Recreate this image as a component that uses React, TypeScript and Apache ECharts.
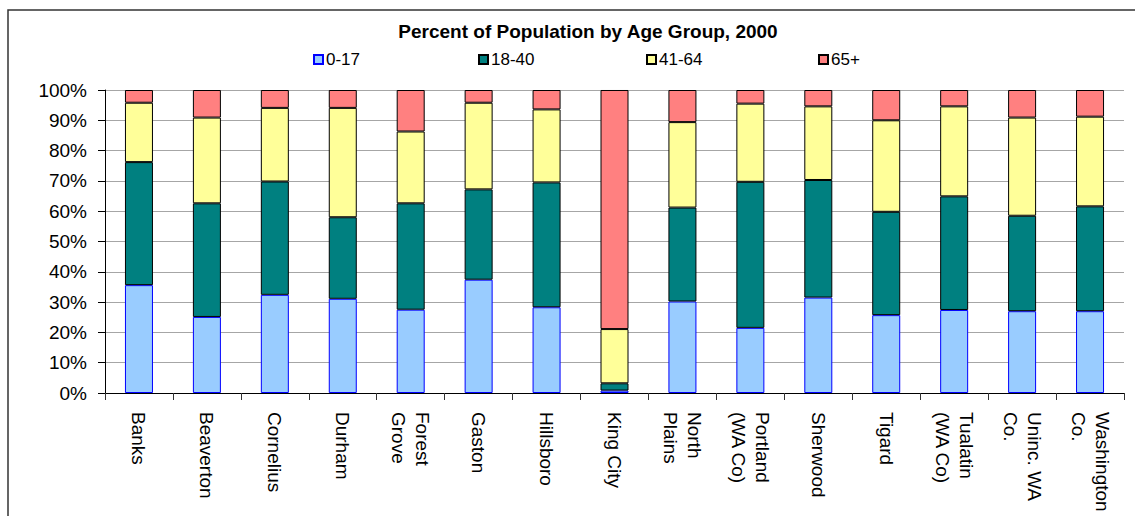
import React, { useEffect, useRef } from "react";
import * as echarts from "echarts";

const categories = [
  "Banks",
  "Beaverton",
  "Cornelius",
  "Durham",
  "Forest\nGrove",
  "Gaston",
  "Hillsboro",
  "King City",
  "North\nPlains",
  "Portland\n(WA Co)",
  "Sherwood",
  "Tigard",
  "Tualatin\n(WA Co)",
  "Uninc. WA\nCo.",
  "Washington\nCo.",
];

const age0to17 = [35.6, 25.1, 32.4, 31.1, 27.5, 37.4, 28.3, 0.8, 30.2, 21.5, 31.5, 25.7, 27.4, 27.0, 27.0];
const age18to40 = [40.6, 37.5, 37.4, 26.9, 35.1, 29.8, 41.2, 2.4, 31.0, 48.2, 38.8, 34.1, 37.5, 31.5, 34.6];
const age41to64 = [19.6, 28.3, 24.3, 36.1, 23.7, 28.6, 24.1, 17.9, 28.2, 25.8, 24.3, 30.2, 29.7, 32.4, 29.6];
const age65plus = [4.2, 9.1, 5.9, 5.9, 13.7, 4.2, 6.4, 78.9, 10.6, 4.5, 5.4, 10.0, 5.4, 9.1, 8.8];

const seriesNames = ["0-17", "18-40", "41-64", "65+"];
const seriesColors = ["#99CCFF", "#008080", "#FFFF99", "#FF8080"];
const seriesBorders = ["#0000FF", "#000000", "#000000", "#000000"];
const legendLefts = [313, 478, 646, 818];

const FONT = "'Liberation Sans', Arial, Helvetica, sans-serif";

export default function App() {
  const ref = useRef<HTMLDivElement>(null);

  useEffect(() => {
    document.body.style.margin = "0";
    if (!ref.current) return;
    const chart = echarts.init(ref.current, undefined, { renderer: "svg" });
    const dataSets = [age0to17, age18to40, age41to64, age65plus];

    chart.setOption({
      animation: false,
      backgroundColor: "#ffffff",
      textStyle: { fontFamily: FONT },
      title: {
        text: "Percent of Population by Age Group, 2000",
        left: 583,
        textAlign: "center",
        top: 17,
        textStyle: { fontFamily: FONT, fontSize: 19, fontWeight: "bold", color: "#000" },
      },
      legend: seriesNames.map((n, i) => ({
        data: [n],
        left: legendLefts[i],
        top: 51,
        itemWidth: 9,
        itemHeight: 9,
        itemGap: 0,
        padding: 0,
        selectedMode: false,
        icon: "rect",
        textStyle: { fontFamily: FONT, fontSize: 17, color: "#000", padding: [0, 0, 0, -2] },
      })),
      graphic: [
        {
          type: "rect",
          shape: { x: 8, y: 10, width: 1300, height: 700 },
          style: { fill: "none", stroke: "#333", lineWidth: 1.5 },
          silent: true,
          z: -1,
        },
      ],
      grid: { left: 105, right: 11, top: 90, bottom: 123, containLabel: false },
      xAxis: {
        type: "category",
        data: categories,
        axisLine: { lineStyle: { color: "#000", width: 1 } },
        axisTick: { show: true, length: 7, lineStyle: { color: "#333" } },
        axisLabel: {
          rotate: -90,
          margin: 19,
          fontFamily: FONT,
          fontSize: 19,
          color: "#000",
          lineHeight: 24,
          interval: 0,
        },
      },
      yAxis: {
        type: "value",
        min: 0,
        max: 100,
        interval: 10,
        axisLine: { show: true, lineStyle: { color: "#000", width: 1 } },
        axisTick: { show: true, length: 7, lineStyle: { color: "#000" } },
        axisLabel: {
          formatter: "{value}%",
          margin: 18,
          fontFamily: FONT,
          fontSize: 19,
          color: "#000",
        },
        splitLine: { show: true, lineStyle: { color: "#a6a6a6", width: 1 } },
      },
      series: seriesNames.map((n, i) => ({
        name: n,
        type: "bar",
        stack: "total",
        barWidth: 28,
        data: dataSets[i],
        itemStyle: {
          color: seriesColors[i],
          borderColor: seriesBorders[i],
          borderWidth: 1,
        },
      })),
    });

    return () => chart.dispose();
  }, []);

  return (
    <div
      ref={ref}
      style={{ position: "absolute", left: 0, top: 0, width: 1135, height: 516 }}
    />
  );
}
